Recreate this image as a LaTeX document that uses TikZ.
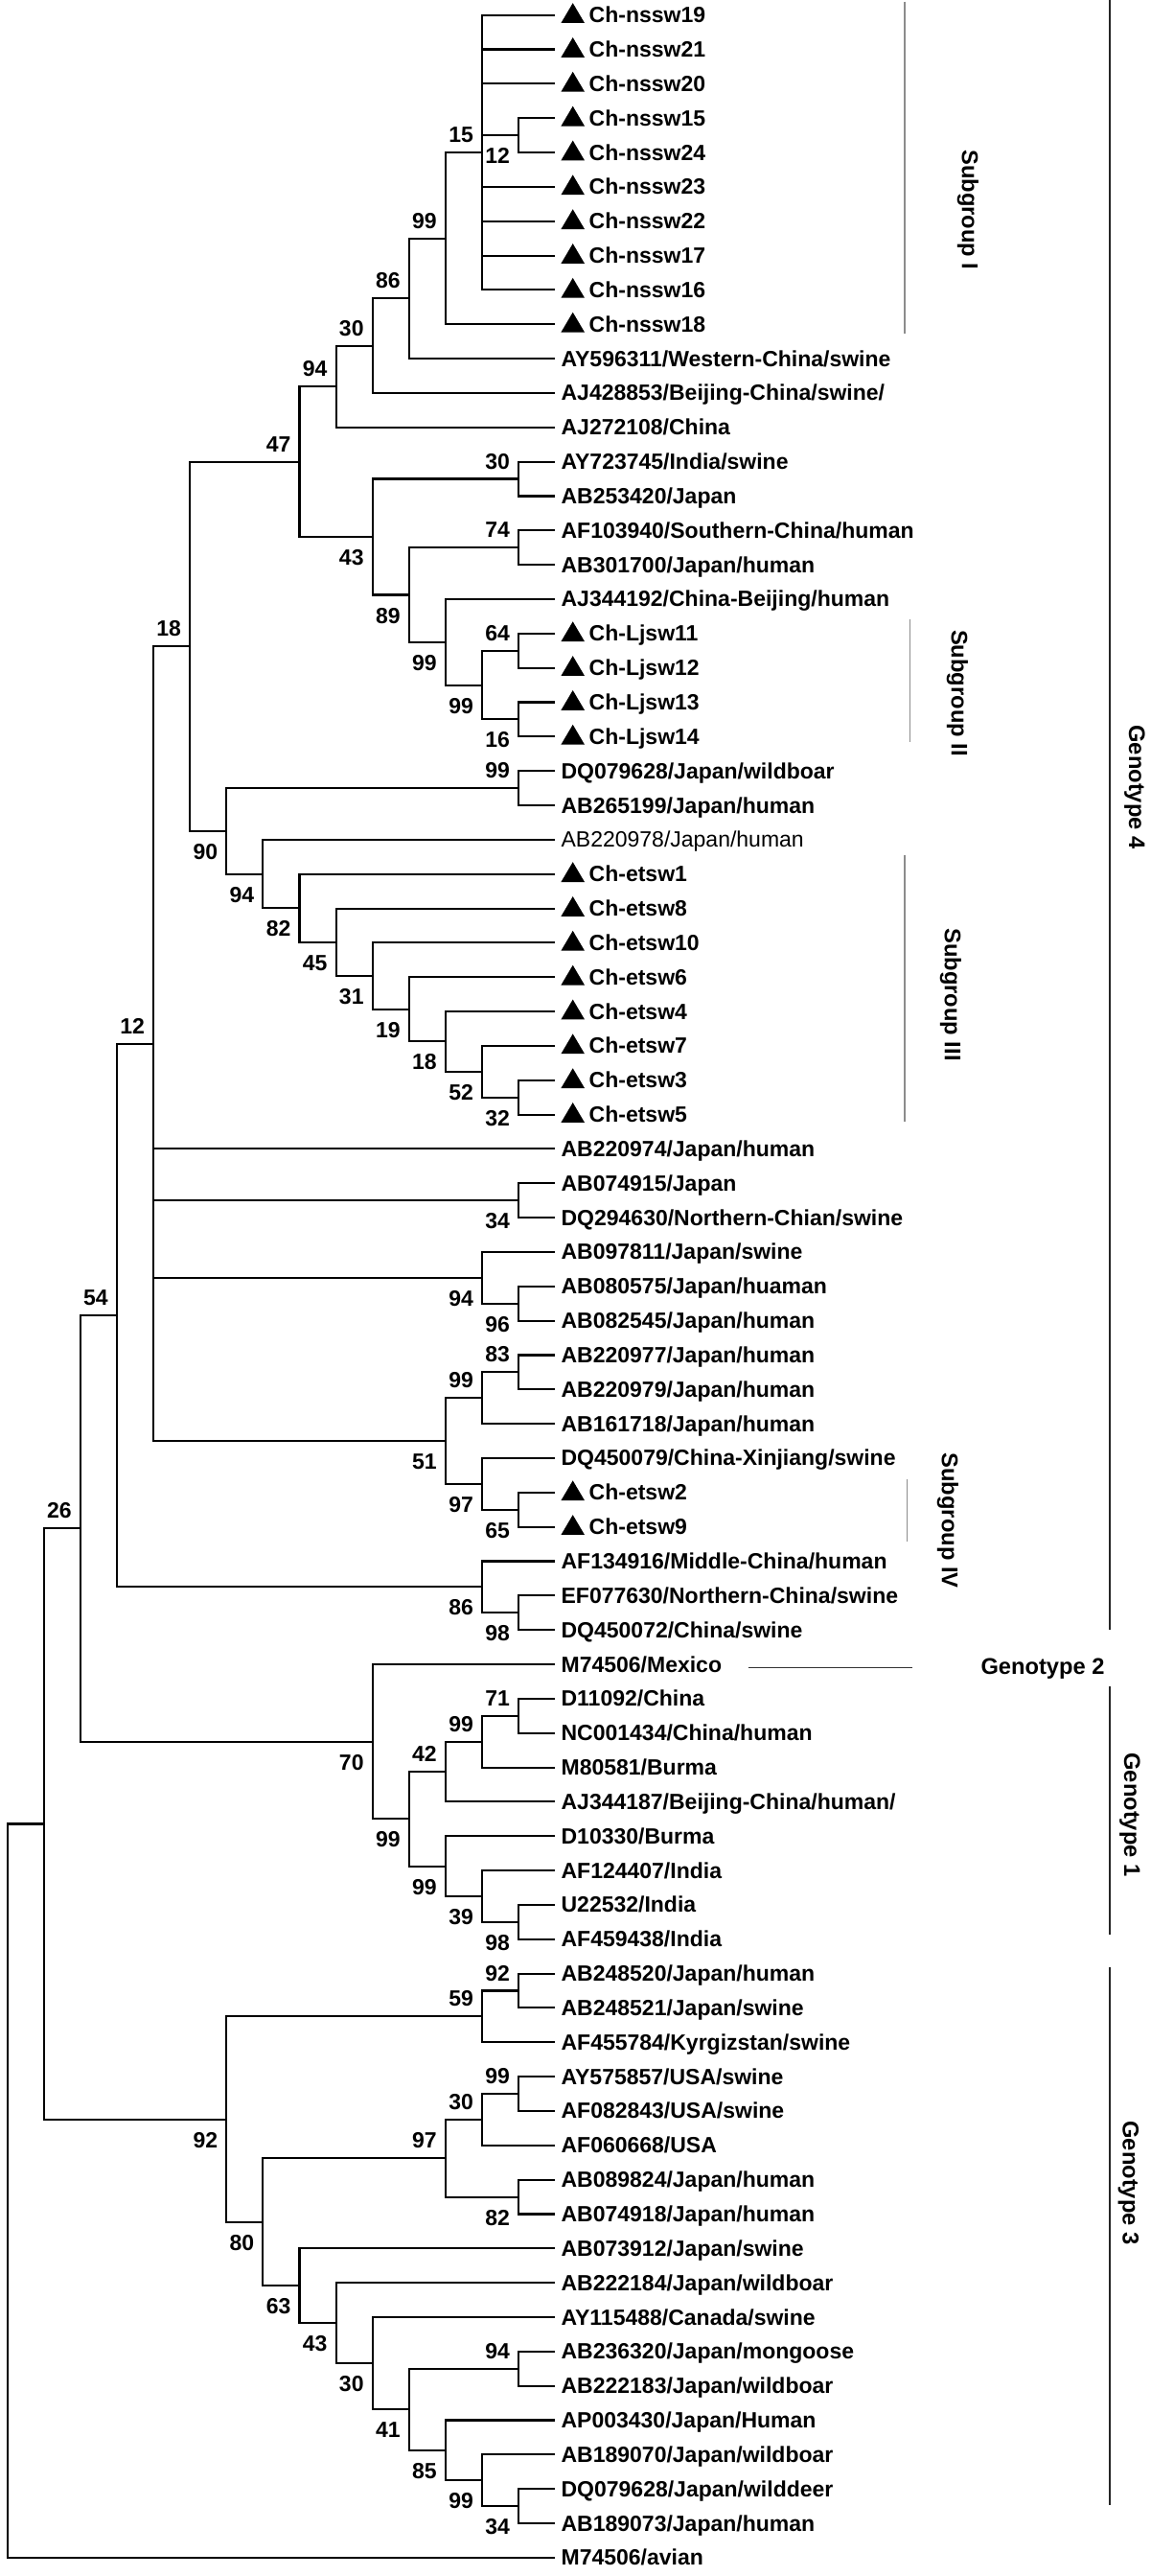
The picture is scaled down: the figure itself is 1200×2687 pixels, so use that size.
\documentclass[tikz,border=0pt]{standalone}
\usepackage{fontspec}
\setmainfont{Liberation Sans}
\usetikzlibrary{calc}
\newcommand\leafA[2]{\coordinate (L#1) at (579.3,{15.7+35.84*#1});
  \node[lab] (t#1) at ($(L#1)+(6.1,8)$) {#2};}
\newcommand\leafT[2]{\coordinate (L#1) at (579.3,{15.7+35.84*#1});
  \fill ($(L#1)+(6.1,8.3)$) -- ++(24.6,0) -- ++(-12.3,-20.8) -- cycle;
  \node[lab] (t#1) at ($(L#1)+(35.2,8)$) {#2};}
\newcommand\tn[5]{\path ($(#3)!0.5!(#4)$) coordinate (tmpm);
  \coordinate (#1) at (tmpm -| lv#2);
  \foreach \c in {#5} {\draw[br] (#1) |- (\c);}}
\newcommand\bsa[2]{\node[bs] (b#1) at ($(#1)+(-9,-10.5)$) {#2};}
\newcommand\bsb[2]{\node[bs] (b#1) at ($(#1)+(-9,29.5)$) {#2};}
\begin{document}
\begin{tikzpicture}[x=1pt,y=-1pt,
  lab/.style={anchor=base west,inner sep=0pt,font=\fontsize{23}{27}\selectfont\bfseries},
  bs/.style={anchor=base east,inner sep=0pt,font=\fontsize{23}{27}\selectfont\bfseries},
  grp/.style={inner sep=0pt,font=\fontsize{23.7}{28}\selectfont\bfseries},
  br/.style={line width=2.1pt,black},
  sgline/.style={line width=1.3pt,black!45},
  gtline/.style={line width=2.2pt,black!85},
  g2line/.style={line width=1.4pt,black!80}]
\useasboundingbox (0,0) rectangle (1200,2687);
\fill[white] (0,0) rectangle (1200,2687);
\foreach \k in {0,...,15} {\coordinate (lv\k) at ({579.3-38.11*\k},0);}
% leaves
\leafT{0}{Ch-nssw19}
\leafT{1}{Ch-nssw21}
\leafT{2}{Ch-nssw20}
\leafT{3}{Ch-nssw15}
\leafT{4}{Ch-nssw24}
\leafT{5}{Ch-nssw23}
\leafT{6}{Ch-nssw22}
\leafT{7}{Ch-nssw17}
\leafT{8}{Ch-nssw16}
\leafT{9}{Ch-nssw18}
\leafA{10}{AY596311/Western-China/swine}
\leafA{11}{AJ428853/Beijing-China/swine/}
\leafA{12}{AJ272108/China}
\leafA{13}{AY723745/India/swine}
\leafA{14}{AB253420/Japan}
\leafA{15}{AF103940/Southern-China/human}
\leafA{16}{AB301700/Japan/human}
\leafA{17}{AJ344192/China-Beijing/human}
\leafT{18}{Ch-Ljsw11}
\leafT{19}{Ch-Ljsw12}
\leafT{20}{Ch-Ljsw13}
\leafT{21}{Ch-Ljsw14}
\leafA{22}{DQ079628/Japan/wildboar}
\leafA{23}{AB265199/Japan/human}
\leafA{24}{\mdseries AB220978/Japan/human}
\leafT{25}{Ch-etsw1}
\leafT{26}{Ch-etsw8}
\leafT{27}{Ch-etsw10}
\leafT{28}{Ch-etsw6}
\leafT{29}{Ch-etsw4}
\leafT{30}{Ch-etsw7}
\leafT{31}{Ch-etsw3}
\leafT{32}{Ch-etsw5}
\leafA{33}{AB220974/Japan/human}
\leafA{34}{AB074915/Japan}
\leafA{35}{DQ294630/Northern-Chian/swine}
\leafA{36}{AB097811/Japan/swine}
\leafA{37}{AB080575/Japan/huaman}
\leafA{38}{AB082545/Japan/human}
\leafA{39}{AB220977/Japan/human}
\leafA{40}{AB220979/Japan/human}
\leafA{41}{AB161718/Japan/human}
\leafA{42}{DQ450079/China-Xinjiang/swine}
\leafT{43}{Ch-etsw2}
\leafT{44}{Ch-etsw9}
\leafA{45}{AF134916/Middle-China/human}
\leafA{46}{EF077630/Northern-China/swine}
\leafA{47}{DQ450072/China/swine}
\leafA{48}{M74506/Mexico}
\leafA{49}{D11092/China}
\leafA{50}{NC001434/China/human}
\leafA{51}{M80581/Burma}
\leafA{52}{AJ344187/Beijing-China/human/}
\leafA{53}{D10330/Burma}
\leafA{54}{AF124407/India}
\leafA{55}{U22532/India}
\leafA{56}{AF459438/India}
\leafA{57}{AB248520/Japan/human}
\leafA{58}{AB248521/Japan/swine}
\leafA{59}{AF455784/Kyrgizstan/swine}
\leafA{60}{AY575857/USA/swine}
\leafA{61}{AF082843/USA/swine}
\leafA{62}{AF060668/USA}
\leafA{63}{AB089824/Japan/human}
\leafA{64}{AB074918/Japan/human}
\leafA{65}{AB073912/Japan/swine}
\leafA{66}{AB222184/Japan/wildboar}
\leafA{67}{AY115488/Canada/swine}
\leafA{68}{AB236320/Japan/mongoose}
\leafA{69}{AB222183/Japan/wildboar}
\leafA{70}{AP003430/Japan/Human}
\leafA{71}{AB189070/Japan/wildboar}
\leafA{72}{DQ079628/Japan/wilddeer}
\leafA{73}{AB189073/Japan/human}
\leafA{74}{M74506/avian}
% internal nodes
\tn{nA}{1}{L3}{L4}{L3,L4} \bsb{nA}{12}
\tn{nP}{2}{L0}{L8}{L0,L1,L2,nA,L5,L6,L7,L8} \bsa{nP}{15}
\tn{n99a}{3}{nP}{L9}{nP,L9} \bsa{n99a}{99}
\tn{n86}{4}{n99a}{L10}{n99a,L10} \bsa{n86}{86}
\tn{n30a}{5}{n86}{L11}{n86,L11} \bsa{n30a}{30}
\tn{n94a}{6}{n30a}{L12}{n30a,L12} \bsa{n94a}{94}
\tn{n30b}{1}{L13}{L14}{L13,L14} \bsa{n30b}{30}
\tn{n74}{1}{L15}{L16}{L15,L16} \bsa{n74}{74}
\tn{n64}{1}{L18}{L19}{L18,L19} \bsa{n64}{64}
\tn{n16}{1}{L20}{L21}{L20,L21} \bsb{n16}{16}
\tn{n99c}{2}{n64}{n16}{n64,n16} \bsb{n99c}{99}
\tn{n99b}{3}{L17}{n99c}{L17,n99c} \bsb{n99b}{99}
\tn{n89}{4}{n74}{n99b}{n74,n99b} \bsb{n89}{89}
\tn{n43}{5}{n30b}{n89}{n30b,n89} \bsb{n43}{43}
\tn{n47}{7}{n94a}{n43}{n94a,n43} \bsa{n47}{47}
\tn{n99d}{1}{L22}{L23}{L22,L23} \bsa{n99d}{99}
\tn{n32}{1}{L31}{L32}{L31,L32} \bsb{n32}{32}
\tn{n52}{2}{L30}{n32}{L30,n32} \bsb{n52}{52}
\tn{n18b}{3}{L29}{n52}{L29,n52} \bsb{n18b}{18}
\tn{n19}{4}{L28}{n18b}{L28,n18b} \bsb{n19}{19}
\tn{n31}{5}{L27}{n19}{L27,n19} \bsb{n31}{31}
\tn{n45}{6}{L26}{n31}{L26,n31} \bsb{n45}{45}
\tn{n82}{7}{L25}{n45}{L25,n45} \bsb{n82}{82}
\tn{n94b}{8}{L24}{n82}{L24,n82} \bsb{n94b}{94}
\tn{n90}{9}{n99d}{n94b}{n99d,n94b} \bsb{n90}{90}
\tn{n18}{10}{n47}{n90}{n47,n90} \bsa{n18}{18}
\tn{n34}{1}{L34}{L35}{L34,L35} \bsb{n34}{34}
\tn{n96}{1}{L37}{L38}{L37,L38} \bsb{n96}{96}
\tn{n94c}{2}{L36}{n96}{L36,n96} \bsb{n94c}{94}
\tn{n83}{1}{L39}{L40}{L39,L40} \bsa{n83}{83}
\tn{n99e}{2}{n83}{L41}{n83,L41} \bsa{n99e}{99}
\tn{n65}{1}{L43}{L44}{L43,L44} \bsb{n65}{65}
\tn{n97}{2}{L42}{n65}{L42,n65} \bsb{n97}{97}
\tn{n51}{3}{n99e}{n97}{n99e,n97} \bsb{n51}{51}
\tn{n12}{11}{n18}{n51}{n18,L33,n34,n94c,n51} \bsa{n12}{12}
\tn{n98}{1}{L46}{L47}{L46,L47} \bsb{n98}{98}
\tn{n86b}{2}{L45}{n98}{L45,n98} \bsb{n86b}{86}
\tn{n54}{12}{n12}{n86b}{n12,n86b} \bsa{n54}{54}
\tn{n71}{1}{L49}{L50}{L49,L50} \bsa{n71}{71}
\tn{n99g}{2}{n71}{L51}{n71,L51} \bsa{n99g}{99}
\tn{n42}{3}{n99g}{L52}{n99g,L52} \bsa{n42}{42}
\tn{n98b}{1}{L55}{L56}{L55,L56} \bsb{n98b}{98}
\tn{n39}{2}{L54}{n98b}{L54,n98b} \bsb{n39}{39}
\tn{n99f}{3}{L53}{n39}{L53,n39} \bsb{n99f}{99}
\tn{n99h}{4}{n42}{n99f}{n42,n99f} \bsb{n99h}{99}
\tn{n70}{5}{L48}{n99h}{L48,n99h} \bsb{n70}{70}
\tn{n26}{13}{n54}{n70}{n54,n70} \bsa{n26}{26}
\tn{n92a}{1}{L57}{L58}{L57,L58} \bsa{n92a}{92}
\tn{n59}{2}{n92a}{L59}{n92a,L59} \bsa{n59}{59}
\tn{n99i}{1}{L60}{L61}{L60,L61} \bsa{n99i}{99}
\tn{n30c}{2}{n99i}{L62}{n99i,L62} \bsa{n30c}{30}
\tn{n82b}{1}{L63}{L64}{L63,L64} \bsb{n82b}{82}
\tn{n97b}{3}{n30c}{n82b}{n30c,n82b} \bsa{n97b}{97}
\tn{n94d}{1}{L68}{L69}{L68,L69} \bsa{n94d}{94}
\tn{n34b}{1}{L72}{L73}{L72,L73} \bsb{n34b}{34}
\tn{n99j}{2}{L71}{n34b}{L71,n34b} \bsb{n99j}{99}
\tn{n85}{3}{L70}{n99j}{L70,n99j} \bsb{n85}{85}
\tn{n41}{4}{n94d}{n85}{n94d,n85} \bsb{n41}{41}
\tn{n30d}{5}{L67}{n41}{L67,n41} \bsb{n30d}{30}
\tn{n43b}{6}{L66}{n30d}{L66,n30d} \bsb{n43b}{43}
\tn{n63}{7}{L65}{n43b}{L65,n43b} \bsb{n63}{63}
\tn{n80}{8}{n97b}{n63}{n97b,n63} \bsb{n80}{80}
\tn{n92}{9}{n59}{n80}{n59,n80} \bsb{n92}{92}
\tn{nR1}{14}{n26}{n92}{n26,n92}
\tn{root}{15}{nR1}{L74}{nR1,L74}
% group annotations
\coordinate (s1a) at (944,1.7);    \coordinate (s1b) at (944,347.7);
\coordinate (s2a) at (949.7,645.7); \coordinate (s2b) at (949.7,774);
\coordinate (s3a) at (944,892.3);  \coordinate (s3b) at (944,1170);
\coordinate (s4a) at (946.7,1543.3); \coordinate (s4b) at (946.7,1608.3);
\draw[sgline] (s1a) -- (s1b);
\draw[sgline] (s2a) -- (s2b);
\draw[sgline] (s3a) -- (s3b);
\draw[sgline] (s4a) -- (s4b);
\node[grp,rotate=-90] (sgI) at (1010,219) {Subgroup I};
\node[grp,rotate=-90] (sgII) at (999,723) {Subgroup II};
\node[grp,rotate=-90] (sgIII) at (992,1037.5) {Subgroup III};
\node[grp,rotate=-90] (sgIV) at (989,1586) {Subgroup IV};
\coordinate (g4a) at (1157.7,0);    \coordinate (g4b) at (1157.7,1700);
\coordinate (g1a) at (1157.7,1759.3); \coordinate (g1b) at (1157.7,2018.3);
\coordinate (g3a) at (1157.7,2051.7); \coordinate (g3b) at (1157.7,2613.3);
\draw[gtline] (g4a) -- (g4b);
\draw[gtline] (g1a) -- (g1b);
\draw[gtline] (g3a) -- (g3b);
\node[grp,rotate=-90] (gt4) at (1184,821) {Genotype 4};
\node[grp,rotate=-90] (gt1) at (1179,1893) {Genotype 1};
\node[grp,rotate=-90] (gt3) at (1177.5,2277) {Genotype 3};
\coordinate (g2a) at (780.6,1739.3); \coordinate (g2b) at (951.7,1739.3);
\draw[g2line] (g2a) -- (g2b);
\node[grp,anchor=base west] (gt2) at (1023.3,1746) {Genotype 2};
\end{tikzpicture}
\end{document}
